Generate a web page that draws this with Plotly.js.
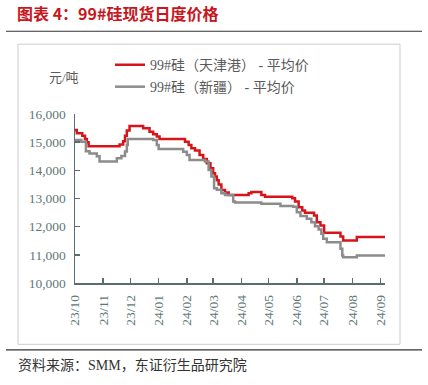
<!DOCTYPE html>
<html>
<head>
<meta charset="utf-8">
<script src="https://cdn.plot.ly/plotly-3.0.1.min.js"></script>
<style>
html,body{margin:0;padding:0;background:#fff;}
#chart{width:428px;height:385px;}
</style>
</head>
<body>
<div id="chart"></div>
<script>
// ---- data ----
const tianjinDates = ['2023-10-01','2023-10-03','2023-10-09','2023-10-12','2023-10-14','2023-10-16','2023-11-19','2023-11-23','2023-11-25','2023-11-27','2023-11-30','2023-12-15','2023-12-22','2023-12-26','2023-12-30','2024-01-02','2024-01-30','2024-02-03','2024-02-06','2024-02-10','2024-02-15','2024-02-19','2024-02-23','2024-02-27','2024-03-01','2024-03-03','2024-03-05','2024-03-07','2024-03-10','2024-03-14','2024-03-18','2024-04-09','2024-04-12','2024-04-23','2024-04-27','2024-05-27','2024-05-30','2024-06-03','2024-06-07','2024-06-10','2024-06-20','2024-06-23','2024-06-27','2024-07-01','2024-07-19','2024-07-22','2024-08-06','2024-09-06'];
const tianjinValues = [15430,15315,15230,15110,15000,14855,14914,15030,15230,15410,15575,15490,15373,15280,15200,15113,15018,14900,14780,14700,14546,14400,14250,14078,13900,13780,13650,13500,13305,13210,13128,13185,13234,13128,13060,13007,12890,12690,12570,12490,12400,12160,12040,11780,11650,11510,11630,11630];

const xinjiangDates = ['2023-10-01','2023-10-08','2023-10-13','2023-10-17','2023-10-25','2023-10-28','2023-11-16','2023-11-21','2023-11-25','2023-11-27','2023-11-28','2023-12-26','2023-12-30','2024-01-01','2024-01-28','2024-02-01','2024-02-04','2024-02-21','2024-02-25','2024-02-28','2024-03-02','2024-03-05','2024-03-10','2024-03-14','2024-03-23','2024-03-25','2024-04-23','2024-05-14','2024-05-28','2024-06-01','2024-06-05','2024-06-12','2024-06-17','2024-06-21','2024-06-25','2024-06-28','2024-06-30','2024-07-04','2024-07-19','2024-07-21','2024-07-22','2024-08-06','2024-09-06'];
const xinjiangValues = [15080,15018,14680,14600,14500,14310,14430,14510,14670,14900,15113,15080,14900,14759,14663,14546,14370,14310,14014,13780,13365,13310,13188,13128,12890,12855,12810,12730,12710,12515,12375,12280,12160,12014,11900,11745,11570,11450,11220,10980,10915,10975,10975];

const seriesNames = ['99#硅（天津港） - 平均价', '99#硅（新疆） - 平均价'];
const yTickVals = [10000,11000,12000,13000,14000,15000,16000];
const titleText = '图表 4：99#硅现货日度价格';
const unitText = '元/吨';
const sourceText = '资料来源：SMM，东证衍生品研究院';

// ---- layout helpers (pixel -> paper) ----
const L = 75, R = 385, T = 114, B = 283.5;
const W = 428, H = 385;
const px = x => (x - L) / (R - L);
const py = y => (B - y) / (B - T);

const serif = 'Liberation Serif, Noto Sans CJK SC, serif';
const tickColor = '#5e7876';
const axisColor = '#5b6e6e';

const traces = [
  {x: tianjinDates, y: tianjinValues, name: seriesNames[0], type: 'scatter', mode: 'lines',
   line: {color: '#d7141a', width: 2.5, shape: 'hv'}, legend: 'legend'},
  {x: xinjiangDates, y: xinjiangValues, name: seriesNames[1], type: 'scatter', mode: 'lines',
   line: {color: '#8c8c8c', width: 2.5, shape: 'hv'}, legend: 'legend2'}
];

const legendBase = {
  xanchor: 'left', yanchor: 'middle', bgcolor: 'rgba(0,0,0,0)',
  font: {family: serif, size: 14, color: '#5a5a5a'}, borderwidth: 0
};

const layout = {
  width: W, height: H,
  margin: {l: L, r: W - R, t: T, b: H - B, pad: 0},
  paper_bgcolor: '#fff', plot_bgcolor: '#fff',
  showlegend: true,
  legend: Object.assign({}, legendBase, {x: px(110), y: py(65)}),
  legend2: Object.assign({}, legendBase, {x: px(110), y: py(87)}),
  title: {text: titleText, xref: 'container', yref: 'container', x: 17 / W, xanchor: 'left',
          y: 1 - 14 / H, yanchor: 'middle',
          font: {family: 'Noto Sans CJK SC, sans-serif', size: 16, color: '#c8161d', weight: 'bold'}},
  xaxis: {
    type: 'date', range: ['2023-10-01', '2024-09-06'],
    tick0: '2023-10-01', dtick: 'M1', tickformat: '%y/%m', tickangle: -90,
    ticks: 'inside', ticklen: 5, tickwidth: 1.5, tickcolor: axisColor,
    showline: true, linecolor: axisColor, linewidth: 1.5,
    showgrid: false, zeroline: false,
    tickfont: {family: serif, size: 13.5, color: tickColor},
    ticklabelstandoff: 5
  },
  yaxis: {
    range: [10000, 16000], tickvals: yTickVals, tickformat: ',d',
    ticks: 'inside', ticklen: 5, tickwidth: 1.5, tickcolor: axisColor,
    showline: true, linecolor: axisColor, linewidth: 1.5,
    showgrid: false, zeroline: false,
    tickfont: {family: serif, size: 13.5, color: tickColor},
    ticklabelstandoff: 5
  },
  shapes: [
    {type: 'rect', xref: 'paper', yref: 'paper', x0: px(18), x1: px(400), y0: py(345), y1: py(44),
     line: {color: '#cccccc', width: 1}, layer: 'below'},
    {type: 'line', xref: 'paper', yref: 'paper', x0: px(6), x1: px(422), y0: py(31), y1: py(31),
     line: {color: '#333333', width: 1.2}},
    {type: 'line', xref: 'paper', yref: 'paper', x0: px(6), x1: px(422), y0: py(350.5), y1: py(350.5),
     line: {color: '#333333', width: 1.2}}
  ],
  annotations: [
    {text: unitText, xref: 'paper', yref: 'paper', x: px(63.5), y: py(77), showarrow: false,
     xanchor: 'center', yanchor: 'middle', font: {family: serif, size: 13, color: '#5a5a5a'}},
    {text: sourceText, xref: 'paper', yref: 'paper', x: px(16), y: py(366), showarrow: false,
     xanchor: 'left', yanchor: 'middle', font: {family: serif, size: 14, color: '#333333'}}
  ]
};

Plotly.newPlot('chart', traces, layout, {displayModeBar: false, staticPlot: true});
</script>
</body>
</html>
